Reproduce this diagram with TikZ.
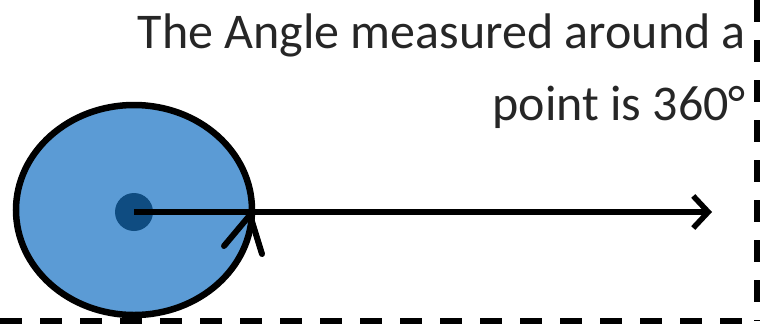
\documentclass[tikz,border=0pt]{standalone}
\usepackage{fontspec}
\setmainfont{Carlito}
\usetikzlibrary{arrows.meta,shapes.geometric}
\definecolor{fillblue}{HTML}{5B9BD5}
\definecolor{dotblue}{HTML}{0F4C81}
\definecolor{txtgray}{HTML}{262626}
\tikzset{
  borderline/.style={line width=6pt, dash pattern=on 22pt off 18pt},
  ringstyle/.style={ellipse, draw=black, line width=6.5pt, fill=fillblue, minimum width=236pt, minimum height=210pt, inner sep=0pt},
  centredot/.style={circle, fill=dotblue, minimum size=38pt, inner sep=0pt},
  rayline/.style={line width=5.5pt, -{Straight Barb[length=15pt,width=32pt,line width=5.5pt]}},
  labeltext/.style={font=\fontsize{50}{60}\selectfont, text=txtgray, anchor=base east, inner sep=0pt}
}
\begin{document}
\begin{tikzpicture}[x=1pt,y=-1pt]
\useasboundingbox (0,0) rectangle (760,325);
\node[ringstyle] (ring) at (134,210) {};
\node[centredot] (dot) at (134,212) {};
\coordinate (rayend) at (712,212);
\draw[rayline] (dot.center) -- (rayend);
\coordinate (barbA) at (224,246);
\coordinate (barbT) at (250,215);
\coordinate (barbB) at (262,254);
\draw[line width=6pt, line cap=round, line join=round] (barbA) -- (barbT) -- (barbB);
\node[labeltext] (label1) at (746,48) {The Angle measured around a};
\node[labeltext] (label2) at (746,120) {point is 360\textdegree};
\coordinate (bl) at (0,321);
\coordinate (br) at (757,321);
\coordinate (tr) at (757,0);
\draw[borderline] (tr) -- (br);
\draw[borderline] (bl) -- (br);
\end{tikzpicture}
\end{document}
